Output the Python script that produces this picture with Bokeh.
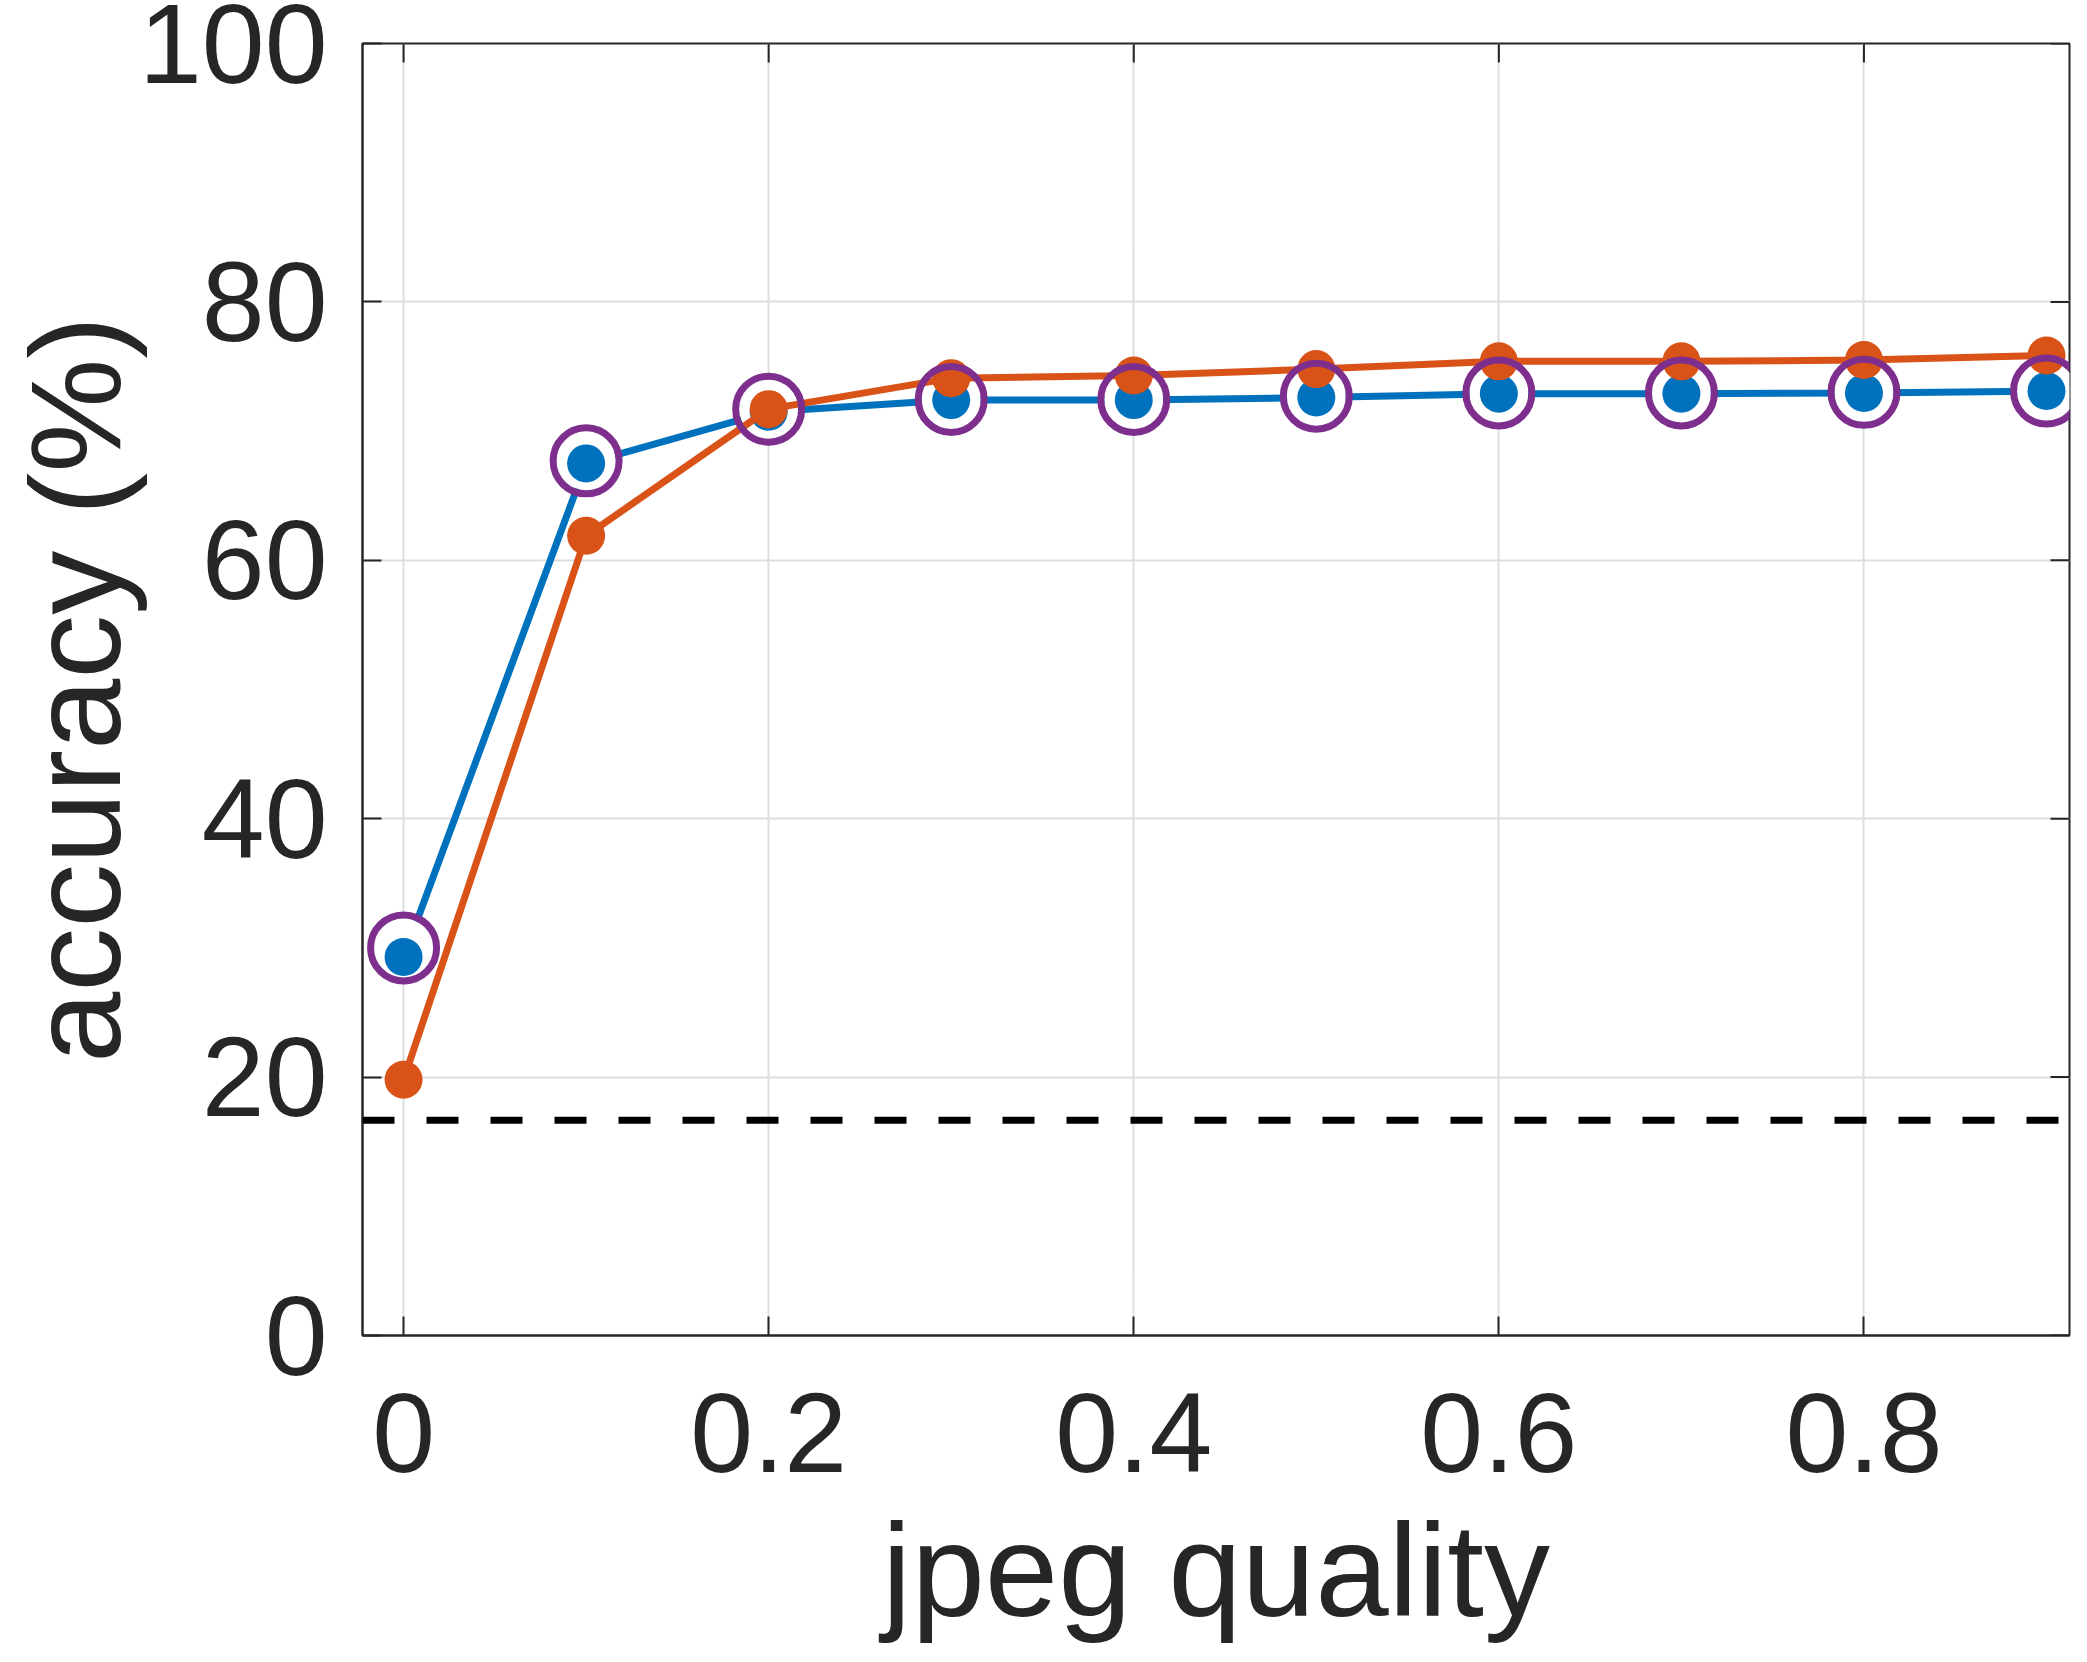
import math
from bokeh.plotting import figure
from bokeh.models import Range1d, FixedTicker, Span, ColumnDataSource
from bokeh.embed import file_html
from bokeh.resources import INLINE

# ---- data ----
quality = [0.0, 0.1, 0.2, 0.3, 0.4, 0.5, 0.6, 0.7, 0.8, 0.9]
acc_blue = [29.3, 67.5, 71.5, 72.4, 72.4, 72.6, 72.9, 72.9, 72.95, 73.1]
acc_orange = [19.8, 61.9, 71.7, 74.1, 74.3, 74.8, 75.4, 75.4, 75.5, 75.85]
acc_ring = [30.0, 67.7, 71.7, 72.45, 72.45, 72.7, 72.95, 72.95, 73.0, 73.1]
chance = 100.0 / 6.0

x_ticks = [0.0, 0.2, 0.4, 0.6, 0.8]
x_tick_labels = ["0", "0.2", "0.4", "0.6", "0.8"]
y_ticks = [0, 20, 40, 60, 80, 100]
y_tick_labels = ["0", "20", "40", "60", "80", "100"]
x_title = "jpeg quality"
y_title = "accuracy (%)"

BLUE = "#0072BD"
ORANGE = "#D95319"
PURPLE = "#7E2F8E"
AX = "#262626"
FONT = "Liberation Sans"

W, H = 2071, 1646
X0, X1 = -0.0225, 0.9126
Y0, Y1 = 0, 100

p = figure(width=W, height=H,
           x_range=Range1d(X0, X1), y_range=Range1d(Y0, Y1),
           output_backend="svg", toolbar_location=None,
           min_border_left=362, min_border_right=2,
           min_border_top=43, min_border_bottom=307)

p.background_fill_color = "white"
p.border_fill_color = "white"
p.outline_line_color = AX
p.outline_line_width = 2

def style_axis(ax, ticks, labels, standoff, title, title_size, title_standoff):
    ax.ticker = FixedTicker(ticks=ticks)
    ax.major_label_overrides = {t: l for t, l in zip(ticks, labels)}
    ax.minor_tick_line_color = None
    ax.major_tick_in = 19
    ax.major_tick_out = 0
    ax.major_tick_line_color = AX
    ax.major_tick_line_width = 2
    ax.axis_line_color = AX
    ax.axis_line_width = 2
    ax.major_label_text_font = FONT
    ax.major_label_text_color = AX
    ax.major_label_text_font_size = "113px"
    ax.major_label_text_line_height = 0.9
    ax.major_label_standoff = standoff
    ax.axis_label = title
    ax.axis_label_text_font = FONT
    ax.axis_label_text_font_size = title_size
    ax.axis_label_text_font_style = "normal"
    ax.axis_label_text_color = AX
    ax.axis_label_text_line_height = 0.9
    ax.axis_label_standoff = title_standoff

style_axis(p.xaxis[0], x_ticks, x_tick_labels, 58, x_title, "132px", 22)
style_axis(p.yaxis[0], y_ticks, y_tick_labels, 35, y_title, "128px", -11)

p.xgrid.ticker = FixedTicker(ticks=x_ticks)
p.ygrid.ticker = FixedTicker(ticks=y_ticks)
for g in (p.xgrid[0], p.ygrid[0]):
    g.grid_line_color = "#dedede"
    g.grid_line_width = 2

# mirrored inward ticks on the top and right edges of the box
p.scatter(x=x_ticks, y=[Y1] * len(x_ticks), marker="dash", size=38,
          angle=math.pi / 2, line_color=AX, line_width=2)
p.scatter(x=[X1] * len(y_ticks), y=y_ticks, marker="dash", size=38,
          line_color=AX, line_width=2)

src = ColumnDataSource(dict(x=quality, b=acc_blue, o=acc_orange, r=acc_ring))

p.line("x", "b", source=src, line_color=BLUE, line_width=7)
p.scatter("x", "r", source=src, size=59, fill_color="white", line_color=None)
p.scatter("x", "b", source=src, size=38, fill_color=BLUE, line_color=None)
p.line("x", "o", source=src, line_color=ORANGE, line_width=7)
p.scatter("x", "o", source=src, size=38, fill_color=ORANGE, line_color=None)
p.scatter("x", "r", source=src, size=66, fill_color=None, line_color=PURPLE, line_width=7)

p.add_layout(Span(location=chance, dimension="width", line_color="black",
                  line_width=7, line_dash="32 32"))

open("out.html", "w").write(file_html(p, INLINE))
